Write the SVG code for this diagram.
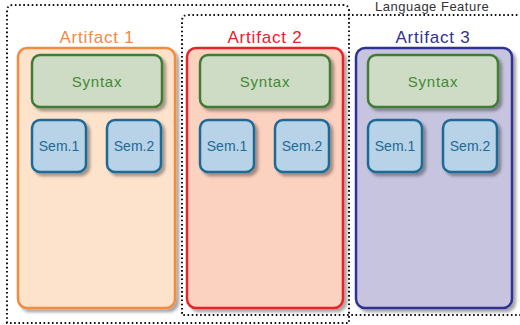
<svg xmlns="http://www.w3.org/2000/svg" width="520" height="325" viewBox="0 0 520 325">
  <defs>
    <filter id="shadow" x="-10%" y="-10%" width="130%" height="130%">
      <feDropShadow dx="3" dy="3" stdDeviation="1.6" flood-color="#000" flood-opacity="0.35"/>
    </filter>
    <style>
      text { font-family: "Liberation Sans", "DejaVu Sans", sans-serif; text-anchor: middle; }
      .group { fill: none; stroke: #111; stroke-width: 2; stroke-dasharray: 1.6 2.6; }
      .group-label { fill: #333; font-size: 13px; text-anchor: start; letter-spacing: 0.5px; }
      .artifact { stroke-width: 2.5; filter: url(#shadow); }
      .a1 { fill: #fde3cc; stroke: #f48a3c; }
      .a2 { fill: #fbd1bf; stroke: #e82128; }
      .a3 { fill: #c7c4e0; stroke: #2f3292; }
      .title { font-size: 17px; letter-spacing: 0.8px; }
      .t1 { fill: #f48a3c; }
      .t2 { fill: #e82128; }
      .t3 { fill: #2f3292; }
      .syntax rect { fill: #cfdcc5; stroke: #3f7b34; stroke-width: 2.5; filter: url(#shadow); }
      .syntax text { fill: #3f8a33; font-size: 15px; letter-spacing: 0.8px; }
      .sem rect { fill: #b8d3e7; stroke: #1b6a95; stroke-width: 2.5; filter: url(#shadow); }
      .sem text { fill: #1b6a95; font-size: 14px; }
    </style>
  </defs>

  <!-- dotted grouping frames -->
  <g id="frame-left">
    <path class="group" d="M7 323 V11 Q7 5 13 5 H343 Q349 5 349 11 V323 Z"/>
  </g>
  <g id="frame-language-feature">
    <path class="group" d="M530 15 H188 Q182 15 182 21 V315 H530"/>
    <text class="group-label" x="375" y="11">Language Feature</text>
  </g>

  <!-- Artifact 1 -->
  <g id="artifact-1">
    <rect class="artifact a1" x="18" y="48" width="157" height="260" rx="9"/>
    <text class="title t1" x="97" y="43">Artifact 1</text>
  </g>
  <g id="artifact-1-syntax" class="syntax">
    <rect x="32" y="55" width="130" height="52" rx="8"/>
    <text x="97" y="87">Syntax</text>
  </g>
  <g id="artifact-1-sem1" class="sem">
    <rect x="32" y="120" width="54" height="52" rx="8"/>
    <text x="59" y="151">Sem.1</text>
  </g>
  <g id="artifact-1-sem2" class="sem">
    <rect x="107" y="120" width="54" height="52" rx="8"/>
    <text x="134" y="151">Sem.2</text>
  </g>

  <!-- Artifact 2 -->
  <g id="artifact-2">
    <rect class="artifact a2" x="187" y="48" width="156" height="260" rx="9"/>
    <text class="title t2" x="265" y="43">Artifact 2</text>
  </g>
  <g id="artifact-2-syntax" class="syntax">
    <rect x="200" y="55" width="130" height="52" rx="8"/>
    <text x="265" y="87">Syntax</text>
  </g>
  <g id="artifact-2-sem1" class="sem">
    <rect x="200" y="120" width="54" height="52" rx="8"/>
    <text x="227" y="151">Sem.1</text>
  </g>
  <g id="artifact-2-sem2" class="sem">
    <rect x="275" y="120" width="54" height="52" rx="8"/>
    <text x="302" y="151">Sem.2</text>
  </g>

  <!-- Artifact 3 -->
  <g id="artifact-3">
    <rect class="artifact a3" x="356" y="48" width="156" height="260" rx="9"/>
    <text class="title t3" x="433" y="43">Artifact 3</text>
  </g>
  <g id="artifact-3-syntax" class="syntax">
    <rect x="368" y="55" width="130" height="52" rx="8"/>
    <text x="433" y="87">Syntax</text>
  </g>
  <g id="artifact-3-sem1" class="sem">
    <rect x="368" y="120" width="54" height="52" rx="8"/>
    <text x="395" y="151">Sem.1</text>
  </g>
  <g id="artifact-3-sem2" class="sem">
    <rect x="443" y="120" width="54" height="52" rx="8"/>
    <text x="470" y="151">Sem.2</text>
  </g>

  <g id="connectors"/>
</svg>
